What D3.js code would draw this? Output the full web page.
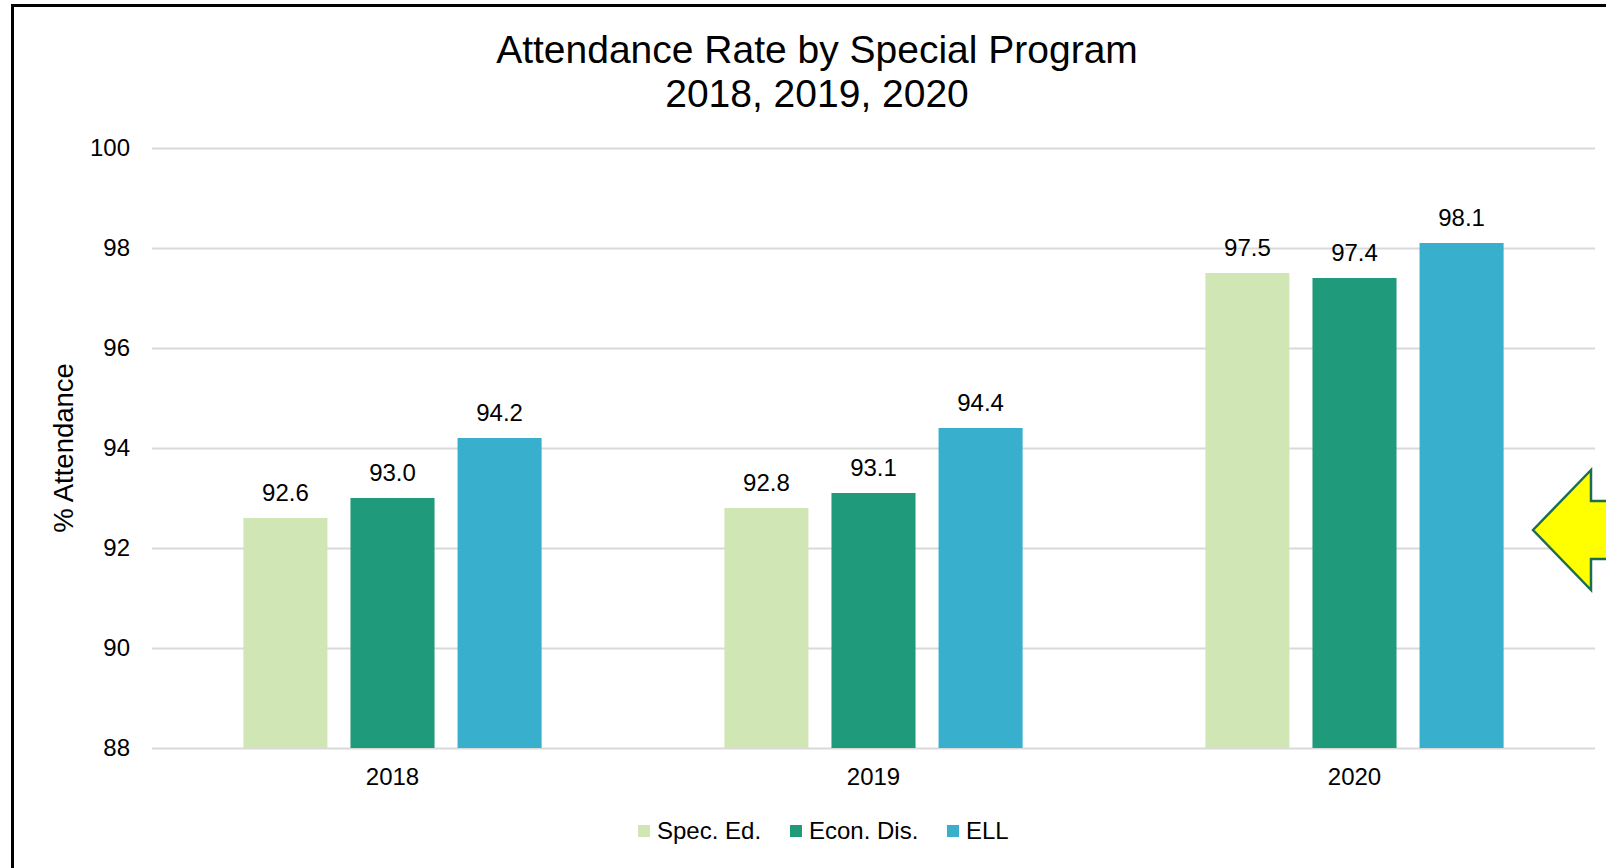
<!DOCTYPE html>
<html>
<head>
<meta charset="utf-8">
<script src="https://cdn.jsdelivr.net/npm/d3@7"></script>
<style>
  html, body { margin: 0; padding: 0; background: #fff; }
  svg { display: block; font-family: "Liberation Sans", Arial, sans-serif; }
</style>
</head>
<body>
<svg id="chart" width="1606" height="868"></svg>
<script>
const categories = ["2018", "2019", "2020"];
const seriesNames = ["Spec. Ed.", "Econ. Dis.", "ELL"];
const specEd = [92.6, 92.8, 97.5];
const econDis = [93.0, 93.1, 97.4];
const ell = [94.2, 94.4, 98.1];
const yTicks = [88, 90, 92, 94, 96, 98, 100];
const seriesColors = ["#d1e6b5", "#1f9a7a", "#37afcd"];

const seriesValues = [specEd, econDis, ell];

const svg = d3.select("#chart");

const plot = { left: 152, right: 1595, top: 148, bottom: 748 };

// Frame
svg.append("rect")
  .attr("x", 12.5).attr("y", 5.5)
  .attr("width", 3000).attr("height", 3000)
  .attr("fill", "#fff").attr("stroke", "#000").attr("stroke-width", 3);

// Title
svg.append("text")
  .attr("x", 817).attr("y", 63)
  .attr("text-anchor", "middle")
  .attr("font-size", 39).attr("fill", "#000")
  .text("Attendance Rate by Special Program");
svg.append("text")
  .attr("x", 817).attr("y", 107)
  .attr("text-anchor", "middle")
  .attr("font-size", 39).attr("fill", "#000")
  .text("2018, 2019, 2020");

const y = d3.scaleLinear().domain([88, 100]).range([plot.bottom, plot.top]);
const x0 = d3.scaleBand().domain(categories)
  .range([plot.left, plot.right])
  .paddingInner(0.38).paddingOuter(0.19);
const x1 = d3.scaleBand().domain(seriesNames)
  .range([0, x0.bandwidth()])
  .paddingInner(0.215);
const color = d3.scaleOrdinal().domain(seriesNames).range(seriesColors);

// Y axis with gridlines
const yAxis = svg.append("g")
  .attr("transform", `translate(${plot.left},0)`)
  .call(d3.axisLeft(y).tickValues(yTicks)
    .tickSizeInner(-(plot.right - plot.left)).tickSizeOuter(0)
    .tickPadding(22).tickFormat(d3.format("d")));
yAxis.select(".domain").remove();
yAxis.selectAll(".tick line").attr("stroke", "#d9d9d9").attr("stroke-width", 2);
yAxis.selectAll(".tick text").attr("font-size", 24).attr("fill", "#000")
  .attr("font-family", "'Liberation Sans', Arial, sans-serif");

// X axis labels
const xAxis = svg.append("g")
  .attr("transform", `translate(0,${plot.bottom})`)
  .call(d3.axisBottom(x0).tickSize(0).tickPadding(20));
xAxis.select(".domain").remove();
xAxis.selectAll(".tick text").attr("font-size", 24).attr("fill", "#000")
  .attr("font-family", "'Liberation Sans', Arial, sans-serif");

// Y axis title
svg.append("text")
  .attr("transform", `translate(73,${(plot.top + plot.bottom) / 2}) rotate(-90)`)
  .attr("text-anchor", "middle")
  .attr("font-size", 27.5).attr("fill", "#000")
  .text("% Attendance");

// Bars
const rows = categories.map((c, i) => ({
  cat: c,
  vals: seriesNames.map((s, j) => ({ s, v: seriesValues[j][i] }))
}));

const groups = svg.append("g").selectAll("g")
  .data(rows).join("g")
  .attr("transform", d => `translate(${x0(d.cat)},0)`);

groups.selectAll("rect")
  .data(d => d.vals).join("rect")
  .attr("x", d => x1(d.s))
  .attr("y", d => y(d.v))
  .attr("width", x1.bandwidth())
  .attr("height", d => y(88) - y(d.v))
  .attr("fill", d => color(d.s));

groups.selectAll("text.lbl")
  .data(d => d.vals).join("text")
  .attr("class", "lbl")
  .attr("x", d => x1(d.s) + x1.bandwidth() / 2)
  .attr("y", d => y(d.v) - 17)
  .attr("text-anchor", "middle")
  .attr("font-size", 24).attr("fill", "#000")
  .text(d => d.v.toFixed(1));

// Legend
const legendItems = [
  { s: seriesNames[0], x: 638 },
  { s: seriesNames[1], x: 790 },
  { s: seriesNames[2], x: 947 }
];
const legend = svg.append("g");
const li = legend.selectAll("g").data(legendItems).join("g")
  .attr("transform", d => `translate(${d.x},825)`);
li.append("rect").attr("width", 12).attr("height", 12).attr("fill", d => color(d.s));
li.append("text").attr("x", 19).attr("y", 14)
  .attr("font-size", 24).attr("fill", "#000")
  .text(d => d.s);

// Arrow annotation
const arrowPts = [[1533, 530], [1591, 470], [1591, 501], [1660, 501], [1660, 559], [1591, 559], [1591, 590]];
svg.append("polygon")
  .attr("points", arrowPts.map(p => p.join(",")).join(" "))
  .attr("fill", "#ffff00")
  .attr("stroke", "#1d6e50")
  .attr("stroke-width", 2.5)
  .attr("stroke-linejoin", "miter");
</script>
</body>
</html>
